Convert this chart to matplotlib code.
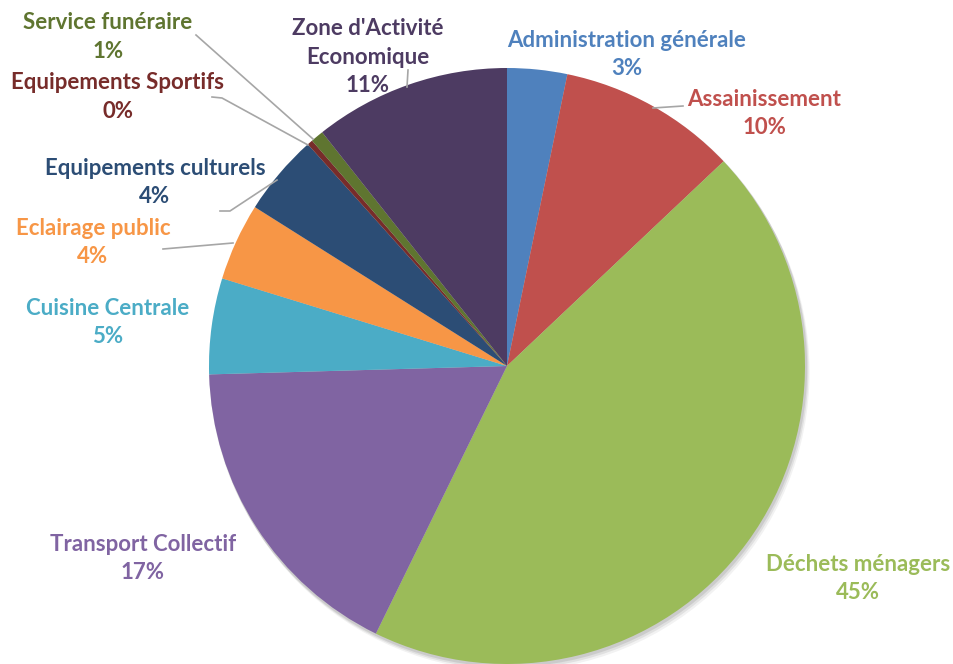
import matplotlib.pyplot as plt
from matplotlib.patches import Circle

# Data (share of total, %)
categories = ["Administration générale", "Assainissement", "Déchets ménagers",
              "Transport Collectif", "Cuisine Centrale", "Eclairage public",
              "Equipements culturels", "Equipements Sportifs", "Service funéraire",
              "Zone d'Activité\nEconomique"]
values = [3.25, 9.7, 44.3, 17.3, 5.2, 4.2, 4.4, 0.3, 0.7, 10.65]
pct_labels = ["3%", "10%", "45%", "17%", "5%", "4%", "4%", "0%", "1%", "11%"]

colors = ["#4F81BD", "#C0504D", "#9BBB59", "#8064A2", "#4BACC6",
          "#F79646", "#2C4D75", "#772C2A", "#5F7530", "#4D3B62"]

plt.rcParams['font.family'] = ['Lato', 'DejaVu Sans']

W, H = 954, 664
fig = plt.figure(figsize=(W / 100, H / 100), dpi=100)
ax = fig.add_axes([0, 0, 1, 1])

cx, cy, r = 507, H - 366, 298

# soft shadow under the pie
for off, a in [(6, 0.05), (4, 0.07), (2, 0.09)]:
    ax.add_patch(Circle((cx + off * 0.6, cy - off), r + 1, color='#000000',
                        alpha=a, lw=0, zorder=1))

ax.pie(values, colors=colors, startangle=90, counterclock=False,
       center=(cx, cy), radius=r, wedgeprops=dict(linewidth=0, zorder=2),
       frame=True)
ax.set_xlim(0, W)
ax.set_ylim(0, H)
ax.set_aspect('equal')
ax.axis('off')

# label block centres (pixel coords from top-left)
label_pos = [(627, 54.5), (764, 113.5), (858, 578.5), (143, 558.5), (108, 322.5),
             (93, 242.5), (155, 182.5), (118, 97), (108, 37), (368, 57)]

for name, pct, col, (x, y) in zip(categories, pct_labels, colors, label_pos):
    txt = name + "\n" + pct
    ax.text(x, H - y, txt, ha='center', va='center', color=col,
            fontsize=16, fontweight='bold', linespacing=1.42, zorder=5)

# leader lines
leaders = [
    [(196, 35), (313, 139)],
    [(212, 97), (222, 98), (308, 145)],
    [(408, 70), (407, 87)],
    [(220, 211), (230, 211), (277, 180)],
    [(163, 249), (233, 243)],
    [(653, 108), (683, 106)],
]
for pts in leaders:
    xs = [p[0] for p in pts]
    ys = [H - p[1] for p in pts]
    ax.plot(xs, ys, color='#A6A6A6', lw=1.2, zorder=4)

fig.savefig("out.png", dpi=100)
